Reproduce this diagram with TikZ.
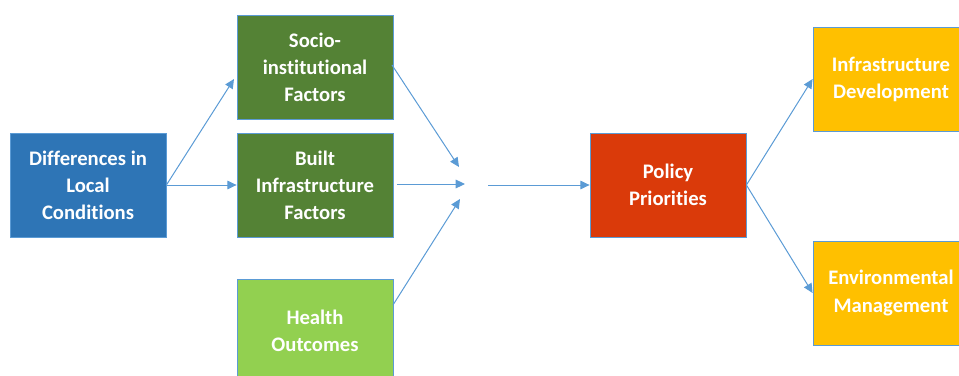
\documentclass[tikz,border=0pt]{standalone}
\usepackage{fontspec}
\setmainfont[Ligatures={NoCommon}]{Carlito}
\usetikzlibrary{arrows.meta}
\definecolor{boxblue}{HTML}{2E75B6}
\definecolor{darkgreen}{HTML}{548235}
\definecolor{lightgreen}{HTML}{92D050}
\definecolor{policyred}{HTML}{DA3A0A}
\definecolor{amber}{HTML}{FFC000}
\definecolor{linkblue}{HTML}{5B9BD5}
\tikzset{
  card/.style={draw=linkblue, line width=0.6pt, minimum width=117pt, minimum height=78pt,
    inner sep=2pt, align=center, text=white,
    font=\fontsize{15.5}{20.3}\selectfont\bfseries},
  link/.style={draw=linkblue, line width=0.75pt, -{Triangle[length=7pt,width=6.5pt]}}
}
\begin{document}
\begin{tikzpicture}[x=0.75pt,y=-0.75pt]
  \useasboundingbox (0,0) rectangle (959,375);
  \clip (0,0) rectangle (959,375);
  % boxes
  \node[card, fill=boxblue] (local) at (88,185) {Differences in\\Local\\Conditions};
  \node[card, fill=darkgreen] (socio) at (315,67) {Socio-\\institutional\\Factors};
  \node[card, fill=darkgreen] (built) at (315,185) {Built\\Infrastructure\\Factors};
  \node[card, fill=lightgreen] (health) at (315,331) {Health\\Outcomes};
  \node[card, fill=policyred] (policy) at (668,185) {Policy\\Priorities};
  \node[card, fill=amber] (infra) at (891,79) {Infrastructure\\Development};
  \node[card, fill=amber] (env) at (891,293) {Environmental\\Management};
  % free ends near the point where the factors meet
  \coordinate (tipA) at (234,79);
  \coordinate (startS) at (392,65);
  \coordinate (tipS) at (459,167);
  \coordinate (startB) at (397,184);
  \coordinate (tipB) at (465,184);
  \coordinate (startH) at (393,305);
  \coordinate (tipH) at (460,199);
  \coordinate (merge) at (488,185);
  % connectors
  \draw[link] (local.east) -- (tipA);
  \draw[link] (local.east) -- (built.west);
  \draw[link] (startS) -- (tipS);
  \draw[link] (startB) -- (tipB);
  \draw[link] (startH) -- (tipH);
  \draw[link] (merge) -- (policy.west);
  \draw[link] (policy.east) -- (infra.west);
  \draw[link] (policy.east) -- (env.west);
\end{tikzpicture}
\end{document}
